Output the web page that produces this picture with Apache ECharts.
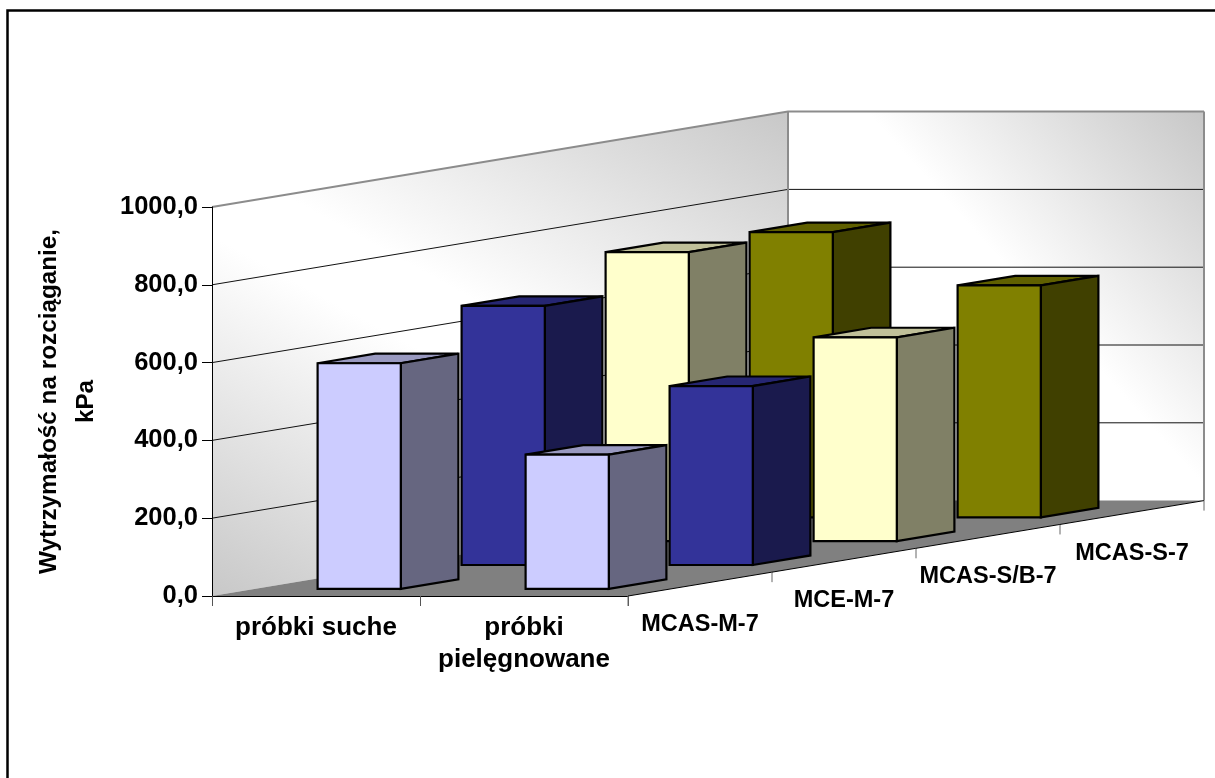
<!DOCTYPE html>
<html>
<head>
<meta charset="utf-8">
<title>Wytrzymałość na rozciąganie</title>
<script src="https://cdn.jsdelivr.net/npm/echarts@6/dist/echarts.min.js"></script>
<style>
  html, body { margin: 0; padding: 0; background: #fff; }
  #chart { width: 1215px; height: 778px; }
</style>
</head>
<body>
<div id="chart"></div>
<script>
const categories = ["próbki suche", "próbki\npielęgnowane"];
const depthLabels = ["MCAS-M-7", "MCE-M-7", "MCAS-S/B-7", "MCAS-S-7"];
const yTicks = [0, 200, 400, 600, 800, 1000];

const mcasM7 = [580, 345];
const mceM7 = [666, 460];
const mcasSB7 = [743, 524];
const mcasS7 = [733, 596];

// one slot of the depth axis, in pixels
const DEPTH_DX = 144;
const DEPTH_DY = -23.85;
const BAR_SPAN = 0.4;
const LABEL_FONT = "'Liberation Sans', Arial, sans-serif";

const depthSeries = [
  { name: "MCAS-M-7", values: mcasM7, front: "#ccccff", side: "#666680", top: "#9999c0" },
  { name: "MCE-M-7", values: mceM7, front: "#333399", side: "#1a1a4d", top: "#262673" },
  { name: "MCAS-S/B-7", values: mcasSB7, front: "#ffffcc", side: "#808066", top: "#c0c099" },
  { name: "MCAS-S-7", values: mcasS7, front: "#808000", side: "#404000", top: "#606000" },
];

const chart = echarts.init(document.getElementById("chart"), null, { renderer: "canvas" });

function project(api, cat, offset, depth, value) {
  const p = api.coord([cat, value]);
  const band = api.size([1, 0])[0];
  return [p[0] + offset * band + depth * DEPTH_DX, p[1] + depth * DEPTH_DY];
}

function poly(points, fill, stroke, width) {
  return {
    type: "polygon",
    shape: { points },
    style: { fill, stroke, lineWidth: width, lineJoin: "miter" },
  };
}

function renderBar(depthIndex, colors) {
  return (params, api) => {
    const cat = api.value(0);
    const value = api.value(1);
    const half = BAR_SPAN / 2;
    const d0 = depthIndex + (1 - BAR_SPAN) / 2;
    const d1 = d0 + BAR_SPAN;
    const a = (o, d, v) => project(api, cat, o, d, v);
    const sw = 2.2;
    return {
      type: "group",
      children: [
        poly([a(-half, d0, value), a(half, d0, value), a(half, d1, value), a(-half, d1, value)], colors.top, "#000", sw),
        poly([a(half, d0, 0), a(half, d1, 0), a(half, d1, value), a(half, d0, value)], colors.side, "#000", sw),
        poly([a(-half, d0, 0), a(half, d0, 0), a(half, d0, value), a(-half, d0, value)], colors.front, "#000", sw),
      ],
    };
  };
}

function renderWalls(params, api) {
  const nDepth = depthLabels.length;
  const top = yTicks[yTicks.length - 1];
  const left = params.coordSys.x;
  const right = left + params.coordSys.width;
  // x is a pixel on the front edge, d a depth slot, v a value
  const pt = (x, d, v) => [x + d * DEPTH_DX, api.coord([0, v])[1] + d * DEPTH_DY];
  const wallStroke = "#8c8c8c";
  const children = [
    {
      type: "polygon",
      shape: { points: [pt(left, 0, 0), pt(left, nDepth, 0), pt(left, nDepth, top), pt(left, 0, top)] },
      style: {
        fill: new echarts.graphic.LinearGradient(0.207, 1.134, 0.793, -0.134, [
          { offset: 0, color: "#c8c8c8" },
          { offset: 0.45, color: "#ffffff" },
          { offset: 0.55, color: "#ffffff" },
          { offset: 1, color: "#c8c8c8" },
        ]),
      },
    },
    {
      type: "polygon",
      shape: { points: [pt(left, nDepth, 0), pt(right, nDepth, 0), pt(right, nDepth, top), pt(left, nDepth, top)] },
      style: {
        fill: new echarts.graphic.LinearGradient(0.5, 0.368, 0.94, -0.057, [
          { offset: 0, color: "#ffffff" },
          { offset: 1, color: "#c8c8c8" },
        ]),
      },
    },
    poly([pt(left, 0, 0), pt(right, 0, 0), pt(right, nDepth, 0), pt(left, nDepth, 0)], "#808080", null, 0),
  ];
  yTicks.forEach((v) => {
    const isTop = v === top;
    if (v === 0) return;
    children.push({
      type: "polyline",
      shape: { points: [pt(left, 0, v), pt(left, nDepth, v), pt(right, nDepth, v)] },
      style: { fill: null, stroke: isTop ? wallStroke : "#111", lineWidth: isTop ? 2 : 1 },
    });
  });
  [left, right].forEach((x) => {
    const a = pt(x, nDepth, 0);
    const b = pt(x, nDepth, top);
    children.push({
      type: "line",
      shape: { x1: a[0], y1: a[1], x2: b[0], y2: b[1] },
      style: { stroke: wallStroke, lineWidth: 2 },
    });
  });
  return { type: "group", children };
}

function renderDepthAxis(params, api) {
  const i = api.value(2);
  const originX = params.coordSys.x + params.coordSys.width;
  const originY = api.coord([0, 0])[1];
  const x = (d) => originX + d * DEPTH_DX;
  const y = (d) => originY + d * DEPTH_DY;
  const children = [
    { type: "line", shape: { x1: x(i), y1: y(i), x2: x(i + 1), y2: y(i + 1) }, style: { stroke: "#000", lineWidth: 1 } },
    { type: "line", shape: { x1: x(i + 1), y1: y(i + 1), x2: x(i + 1), y2: y(i + 1) + 10 }, style: { stroke: "#666", lineWidth: 1 } },
    {
      type: "text",
      style: {
        x: x(i + 0.5),
        y: y(i + 0.5) + 40.5,
        text: depthLabels[i],
        fill: "#000",
        font: "bold 23.5px " + LABEL_FONT,
        align: "center",
        verticalAlign: "middle",
      },
    },
  ];
  if (i === 0) {
    children.push({ type: "line", shape: { x1: x(0), y1: y(0), x2: x(0), y2: y(0) + 10 }, style: { stroke: "#666", lineWidth: 1 } });
  }
  return { type: "group", children };
}

const option = {
  animation: false,
  backgroundColor: "#ffffff",
  graphic: [
    {
      type: "rect",
      shape: { x: 7.5, y: 10.5, width: 1400, height: 900 },
      style: { fill: null, stroke: "#000", lineWidth: 2.5 },
      silent: true,
    },
  ],
  grid: { left: 212, top: 207, width: 416, height: 389, outerBoundsMode: "none" },
  xAxis: {
    type: "category",
    data: categories,
    axisLine: { show: true, lineStyle: { color: "#000", width: 1 } },
    axisTick: { show: true, length: 10, lineStyle: { color: "#555", width: 1 } },
    axisLabel: {
      color: "#000",
      interval: 0,
      margin: 16,
      lineHeight: 32,
      fontFamily: "Liberation Sans",
      fontWeight: "bold",
      fontSize: 26,
    },
    splitLine: { show: false },
  },
  yAxis: {
    type: "value",
    min: 0,
    max: 1000,
    interval: 200,
    name: "Wytrzymałość na rozciąganie,\nkPa",
    nameLocation: "middle",
    nameRotate: 90,
    nameGap: 107,
    nameTextStyle: {
      color: "#000",
      fontFamily: "Liberation Sans",
      fontWeight: "bold",
      fontSize: 24.3,
      lineHeight: 37,
    },
    axisLine: { show: true, lineStyle: { color: "#000", width: 1 } },
    axisTick: { show: true, length: 10, lineStyle: { color: "#000", width: 1 } },
    axisLabel: {
      color: "#000",
      margin: 14,
      fontFamily: "Liberation Sans",
      fontWeight: "bold",
      fontSize: 25.5,
      formatter: (v) => v.toFixed(1).replace(".", ","),
    },
    splitLine: { show: false },
  },
  series: [
    {
      type: "custom",
      name: "walls",
      z: -1,
      silent: true,
      renderItem: renderWalls,
      data: [[0, 0]],
      encode: { x: 0, y: 1 },
      clip: false,
    },
    {
      type: "custom",
      name: "depth axis",
      z: 1,
      silent: true,
      renderItem: renderDepthAxis,
      data: depthLabels.map((_, i) => [0, 0, i]),
      encode: { x: 0, y: 1 },
      clip: false,
    },
    // rear row first so the nearer bars cover it
    ...depthSeries
      .map((s, i) => ({
        type: "custom",
        name: s.name,
        z: 2,
        renderItem: renderBar(i, s),
        data: s.values.map((v, c) => [c, v]),
        encode: { x: 0, y: 1 },
        clip: false,
      }))
      .reverse(),
  ],
};

chart.setOption(option);
window.addEventListener("resize", () => chart.resize());
</script>
</body>
</html>
